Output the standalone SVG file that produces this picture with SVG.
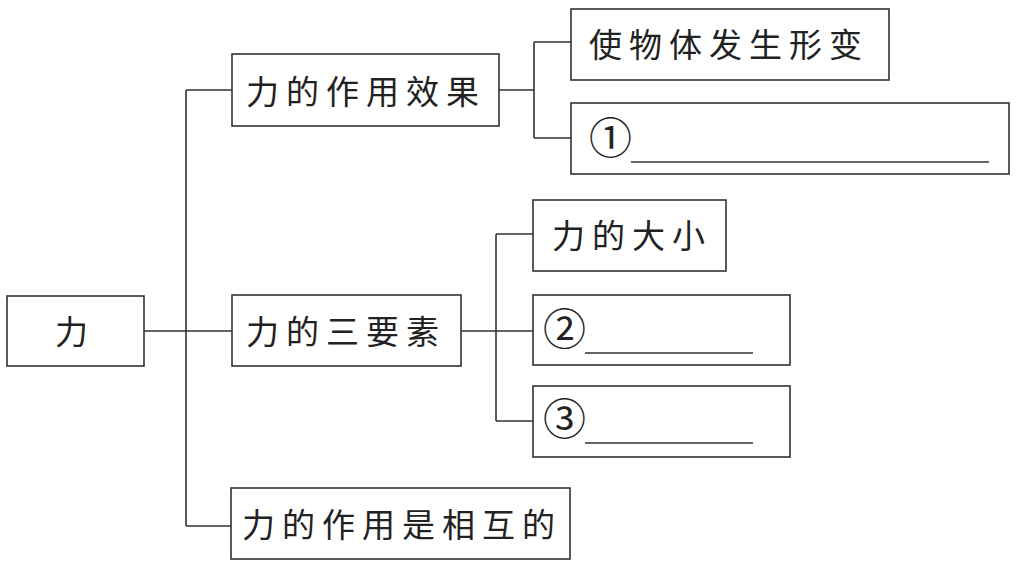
<svg xmlns="http://www.w3.org/2000/svg" width="1020" height="567" viewBox="0 0 1020 567">
<style>
.box{fill:#fff;stroke:#333;stroke-width:1.6}
.ln{fill:none;stroke:#333;stroke-width:1.6}
.t{font-family:"Noto Sans CJK SC",sans-serif;font-size:33px;fill:#222;letter-spacing:7px}
.n{font-family:"Noto Sans CJK SC",sans-serif;font-size:43px;fill:#222}
</style>
<rect width="1020" height="567" fill="#fff"/>
<g id="connectors">
<path class="ln" d="M144,331 H232 M186,90 V526 M186,90 H232 M186,526 H231"/>
<path class="ln" d="M499,90 H534 M534,42 V138 M534,42 H571 M534,138 H571"/>
<path class="ln" d="M461,331 H533 M496,234 V421 M496,234 H533 M496,421 H533"/>
</g>
<g id="n-li"><rect class="box" x="7" y="296" width="137" height="70"/><text class="t" x="55" y="344">力</text></g>
<g id="n-effect"><rect class="box" x="232" y="54" width="267" height="72"/><text class="t" x="246" y="104">力的作用效果</text></g>
<g id="n-deform"><rect class="box" x="571" y="9" width="318" height="71"/><text class="t" x="589" y="57">使物体发生形变</text></g>
<g id="n-blank1"><rect class="box" x="571" y="103" width="438" height="71"/><text class="n" x="589" y="154">①</text><path class="ln" d="M631,162 H989"/></g>
<g id="n-three"><rect class="box" x="232" y="295" width="229" height="71"/><text class="t" x="246" y="344">力的三要素</text></g>
<g id="n-size"><rect class="box" x="533" y="200" width="193" height="71"/><text class="t" x="552" y="248">力的大小</text></g>
<g id="n-blank2"><rect class="box" x="533" y="295" width="257" height="70"/><text class="n" x="543" y="345">②</text><path class="ln" d="M585,353 H753"/></g>
<g id="n-blank3"><rect class="box" x="533" y="386" width="257" height="71"/><text class="n" x="543" y="435">③</text><path class="ln" d="M585,443 H753"/></g>
<g id="n-mutual"><rect class="box" x="231" y="488" width="339" height="71"/><text class="t" x="242" y="537">力的作用是相互的</text></g>
</svg>
